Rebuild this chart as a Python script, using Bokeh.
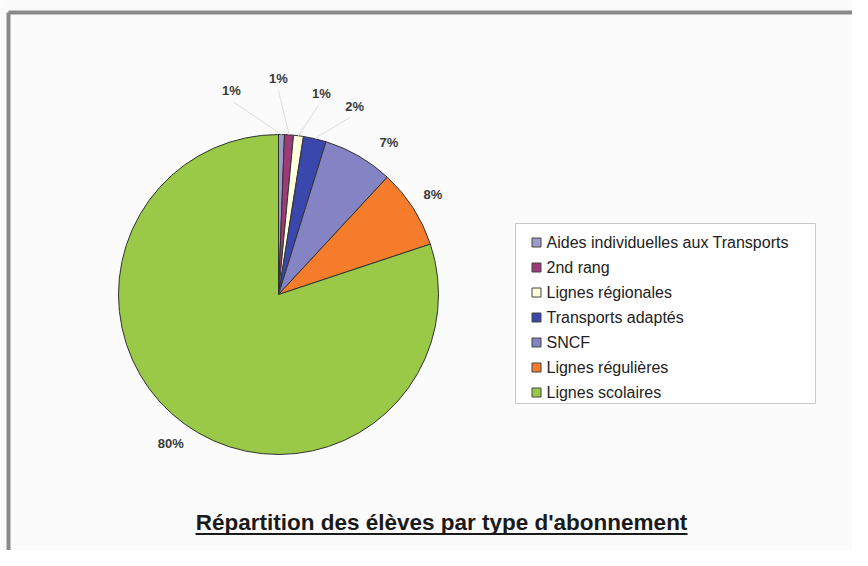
import numpy as np
from bokeh.plotting import figure
from bokeh.models import Range1d, ColumnDataSource
from bokeh.core.properties import value
from bokeh.embed import file_html
from bokeh.resources import INLINE

# ---- data ----
categories = ["Aides individuelles aux Transports", "2nd rang", "Lignes régionales",
              "Transports adaptés", "SNCF", "Lignes régulières", "Lignes scolaires"]
shares = [0.6, 0.9, 1.0, 2.3, 7.1, 8.0, 80.1]
colors = ["#9c9cc8", "#9e3a78", "#ffffdd", "#3a48ae", "#8484c4", "#f47c2a", "#99c947"]
title_text = "Répartition des élèves par type d'abonnement"

W, H = 852, 550
p = figure(width=W, height=H, output_backend="svg", toolbar_location=None,
           x_range=Range1d(0, W), y_range=Range1d(0, H), min_border=0)
p.axis.visible = False
p.grid.visible = False
p.outline_line_color = None
p.background_fill_color = "#fbfbfb"
p.border_fill_color = "#ffffff"

def Y(page_y):
    return H - page_y

def X(page_x):
    return page_x

# frame
p.line([X(8), X(8)], [Y(12), Y(570)], line_color="#8a8a8a", line_width=4)
p.line([X(8), X(870)], [Y(12), Y(12)], line_color="#8a8a8a", line_width=4)

# pie
cx, cy, R = X(278), Y(294), 160
vals = np.array(shares, dtype=float)
frac = vals / vals.sum()
cum_end = np.cumsum(frac)
cum_start = cum_end - frac
start = np.pi / 2 - cum_end * 2 * np.pi
end = np.pi / 2 - cum_start * 2 * np.pi
src = ColumnDataSource(dict(start=start, end=end, color=colors))
p.wedge(x=cx, y=cy, radius=R, start_angle="start", end_angle="end",
        fill_color="color", line_color="#333333", line_width=1, source=src)

# labels (clockwise angle from top, degrees; radius) - layout spreading
mid_deg = (cum_start + frac / 2) * 360
lab_deg = [-13, 0, 12, 22, 36, 57, mid_deg[6]]
lab_r = [209, 216, 206, 203, 188, 184, 184]
lx, ly, lt = [], [], []
for i in range(len(shares)):
    a = np.deg2rad(lab_deg[i])
    lx.append(cx + lab_r[i] * np.sin(a))
    ly.append(cy + lab_r[i] * np.cos(a))
    lt.append(f"{int(round(shares[i]))}%")
    if i < 4:
        m = np.deg2rad(mid_deg[i])
        x0, y0 = cx + R * np.sin(m), cy + R * np.cos(m)
        x1, y1 = cx + (lab_r[i] - 12) * np.sin(a), cy + (lab_r[i] - 12) * np.cos(a)
        p.line([x0, x1], [y0, y1], line_color="#dddddd", line_width=1)
p.text(x=lx, y=ly, text=lt, text_font=value("Liberation Sans"), text_font_size="13px",
       text_font_style="bold", text_color="#3a3a3a", text_align="center",
       text_baseline="middle")

# legend box
p.quad(left=X(515), right=X(815), top=Y(223), bottom=Y(403),
       fill_color="#ffffff", line_color="#c8c8c8", line_width=1)
n = len(categories)
ly2 = [Y(242 + 25 * i) for i in range(n)]
p.rect(x=[X(536)] * n, y=ly2, width=9, height=9, fill_color=colors,
       line_color="#444444", line_width=1)
p.text(x=[X(546)] * n, y=ly2, text=categories, text_font=value("Liberation Sans"),
       text_font_size="16px", text_color="#222222", text_baseline="middle")

# title (underlined)
p.text(x=[X(441)], y=[Y(522)], text=[title_text], text_font=value("Liberation Sans"),
       text_font_size="22.5px", text_font_style="bold", text_color="#1a1a1a",
       text_align="center", text_baseline="middle")
p.line([X(195), X(687)], [Y(533.5), Y(533.5)], line_color="#1a1a1a", line_width=2)

open("out.html", "w").write(file_html(p, INLINE))
